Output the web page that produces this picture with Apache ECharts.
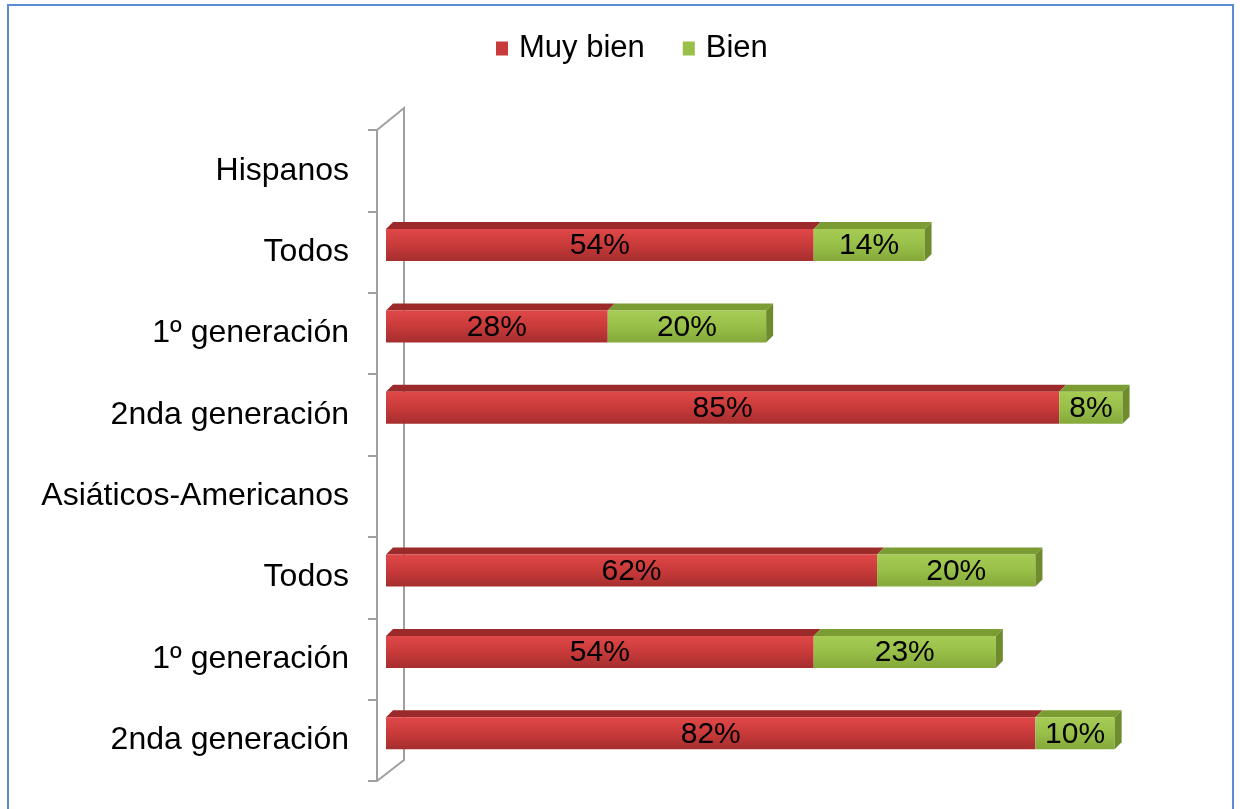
<!DOCTYPE html>
<html>
<head>
<meta charset="utf-8">
<script src="https://cdn.jsdelivr.net/npm/echarts@6/dist/echarts.min.js"></script>
<style>
  html, body { margin: 0; padding: 0; background: #fff; }
  #chart { width: 1240px; height: 809px; }
</style>
</head>
<body>
<div id="chart"></div>
<script>
const categories = ['Hispanos', 'Todos', '1º generación', '2nda generación',
  'Asiáticos-Americanos', 'Todos', '1º generación', '2nda generación']
const muyBien = [null, 54, 28, 85, null, 62, 54, 82]
const bien = [null, 14, 20, 8, null, 20, 23, 10]

const chart = echarts.init(document.getElementById('chart'))

const DEPTH = 7
const FACE_H = 32
const LIFT = 7

// 3D-ish bar: front face, top face, right face (only for the last segment)
const makeRender = (front, top, side, withSide) => (params, api) => {
  const cat = api.value(0)
  const start = api.value(1)
  const end = api.value(2)
  if (end == null || isNaN(end)) return
  const p0 = api.coord([start, cat])
  const p1 = api.coord([end, cat])
  const x0 = p0[0], x1 = p1[0]
  const yTop = p0[1] - LIFT - FACE_H / 2
  const children = [
    {
      type: 'polygon',
      shape: { points: [[x0, yTop], [x0 + DEPTH, yTop - DEPTH], [x1 + DEPTH, yTop - DEPTH], [x1, yTop]] },
      style: { fill: top }
    },
    {
      type: 'rect',
      shape: { x: x0, y: yTop, width: x1 - x0, height: FACE_H },
      style: { fill: front }
    }
  ]
  if (withSide) {
    children.push({
      type: 'polygon',
      shape: { points: [[x1, yTop], [x1 + DEPTH, yTop - DEPTH], [x1 + DEPTH, yTop - DEPTH + FACE_H], [x1, yTop + FACE_H]] },
      style: { fill: side }
    })
  }
  children.push({
    type: 'text',
    style: {
      x: (x0 + x1) / 2,
      y: yTop + FACE_H / 2 + 1,
      text: api.value(3) + '%',
      align: 'center',
      verticalAlign: 'middle',
      fill: '#000',
      font: '30px "Liberation Sans", Arial, sans-serif'
    }
  })
  return { type: 'group', children }
}

const redFront = new echarts.graphic.LinearGradient(0, 0, 0, 1, [
  { offset: 0, color: '#e04848' },
  { offset: 0.5, color: '#c93a3a' },
  { offset: 1, color: '#a52e2e' }
])
const greenFront = new echarts.graphic.LinearGradient(0, 0, 0, 1, [
  { offset: 0, color: '#a6cc55' },
  { offset: 0.5, color: '#98bf48' },
  { offset: 1, color: '#84a83a' }
])

const muyData = categories.map((c, i) => [i, 0, muyBien[i], muyBien[i]])
const bienData = categories.map((c, i) => [i, muyBien[i], muyBien[i] == null ? null : muyBien[i] + bien[i], bien[i]])

const option = {
  animation: false,
  textStyle: { fontFamily: '"Liberation Sans", Arial, sans-serif' },
  legend: {
    top: 28,
    left: 491,
    itemWidth: 12,
    itemHeight: 14,
    itemGap: 38,
    icon: 'rect',
    textStyle: { fontSize: 31, color: '#000', padding: [0, 0, 0, 6] },
    data: [
      { name: 'Muy bien', itemStyle: { color: '#c93a3a' } },
      { name: 'Bien', itemStyle: { color: '#98bf48' } }
    ]
  },
  graphic: [
    {
      type: 'rect',
      shape: { x: 8, y: 5, width: 1225, height: 820 },
      style: { fill: 'none', stroke: '#5b8bd0', lineWidth: 2 },
      silent: true
    },
    {
      // back edge of the axis wall
      type: 'polyline',
      shape: { points: [[377, 130], [404, 108], [404, 760], [377, 781]] },
      style: { stroke: '#a0a0a0', lineWidth: 2, fill: 'none' },
      silent: true
    }
  ],
  grid: { left: 386, right: 62, top: 130, bottom: 28 },
  xAxis: {
    type: 'value',
    min: 0,
    max: 100,
    show: false
  },
  yAxis: {
    type: 'category',
    data: categories,
    inverse: true,
    offset: 9,
    axisLine: { show: true, onZero: false, lineStyle: { color: '#a0a0a0', width: 2 } },
    axisTick: { show: true, interval: 0, length: 9, lineStyle: { color: '#a0a0a0', width: 2 } },
    axisLabel: { fontSize: 32, color: '#000', margin: 28, padding: [6, 0, 0, 0] }
  },
  series: [
    {
      name: 'Muy bien',
      type: 'custom',
      renderItem: makeRender(redFront, '#9c2a2a', '#8a2424', false),
      encode: { x: [1, 2], y: 0 },
      data: muyData,
      itemStyle: { color: '#c93a3a' }
    },
    {
      name: 'Bien',
      type: 'custom',
      renderItem: makeRender(greenFront, '#7b9c33', '#6e8c2c', true),
      encode: { x: [1, 2], y: 0 },
      data: bienData,
      itemStyle: { color: '#98bf48' }
    }
  ]
}

chart.setOption(option)
</script>
</body>
</html>
